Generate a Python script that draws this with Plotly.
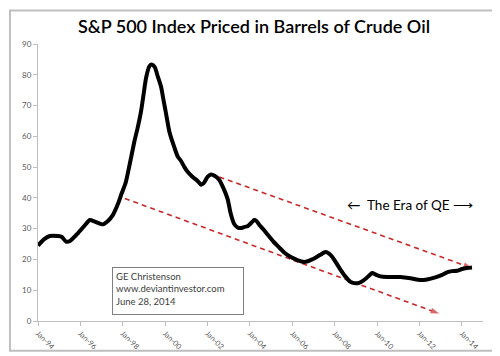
import plotly.graph_objects as go

# Data (decimal year, S&P 500 / oil price ratio)
years = [1994.00, 1994.28, 1994.56, 1994.94, 1995.13, 1995.32, 1995.51, 1995.88,
         1996.26, 1996.45, 1996.68, 1997.06, 1997.30, 1997.53, 1997.77, 1997.95,
         1998.14, 1998.33, 1998.55, 1998.71, 1998.86, 1998.99, 1999.10, 1999.26,
         1999.37, 1999.51, 1999.65, 1999.81, 1999.93, 2000.04, 2000.20, 2000.44,
         2000.59, 2000.75, 2000.91, 2001.06, 2001.30, 2001.53, 2001.69, 2001.82,
         2002.00, 2002.16, 2002.33, 2002.55, 2002.76, 2002.95, 2003.09, 2003.26,
         2003.42, 2003.57, 2003.75, 2003.89, 2004.08, 2004.20, 2004.31, 2004.44,
         2004.64, 2004.83, 2005.11, 2005.38, 2005.63, 2005.93, 2006.24, 2006.56,
         2006.76, 2007.03, 2007.32, 2007.57, 2007.75, 2007.89, 2008.08, 2008.28,
         2008.50, 2008.75, 2008.92, 2009.15, 2009.38, 2009.54, 2009.77, 2009.96,
         2010.16, 2010.48, 2011.10, 2011.58, 2012.05, 2012.36, 2012.75, 2013.07,
         2013.30, 2013.54, 2013.77, 2014.01, 2014.24, 2014.48]
ratio = [24.5, 26.5, 27.6, 27.6, 27.3, 25.8, 26.0, 28.5,
         31.5, 32.8, 32.3, 31.4, 32.5, 34.4, 38.0, 41.5,
         45.0, 51.0, 58.4, 63.0, 68.0, 74.0, 79.0, 82.8,
         83.3, 82.5, 79.5, 76.0, 71.5, 67.5, 61.5, 56.3,
         53.5, 52.0, 50.0, 48.5, 46.8, 45.5, 44.3, 44.8,
         46.8, 47.6, 47.2, 45.9, 43.0, 39.6, 35.0, 31.5,
         30.4, 30.2, 30.6, 30.8, 32.0, 32.8, 32.5, 31.3,
         29.7, 28.1, 25.8, 23.9, 22.2, 20.8, 19.8, 19.2,
         19.5, 20.3, 21.5, 22.4, 21.8, 20.8, 18.8, 16.6,
         14.5, 12.7, 12.3, 12.4, 13.3, 14.2, 15.6, 15.0,
         14.5, 14.3, 14.3, 13.9, 13.3, 13.5, 14.2, 15.0,
         15.8, 16.2, 16.3, 16.9, 17.2, 17.4]

# Dashed trend channel lines (start, end)
upper_x = [2002.16, 2014.48]
upper_y = [47.8, 17.2]
lower_x = [1998.10, 2012.93]
lower_y = [39.8, 2.4]

tick_vals = [1994, 1996, 1998, 2000, 2002, 2004, 2006, 2008, 2010, 2012, 2014]
tick_text = ["Jan-94", "Jan-96", "Jan-98", "Jan-00", "Jan-02", "Jan-04",
             "Jan-06", "Jan-08", "Jan-10", "Jan-12", "Jan-14"]
y_ticks = [0, 10, 20, 30, 40, 50, 60, 70, 80, 90]

RED = "#C8282A"
GRAY = "#595959"
FONT = "Lato"

fig = go.Figure()
for tx, ty in [(upper_x, upper_y), (lower_x, lower_y)]:
    fig.add_trace(go.Scatter(
        x=tx, y=ty, mode="lines+markers",
        line=dict(color=RED, width=1.6, dash="5px,4px"),
        marker=dict(symbol=["circle", "arrow"], size=[0, 9], color=RED,
                    angleref="previous", line=dict(width=0)),
        hoverinfo="skip", showlegend=False))

fig.add_trace(go.Scatter(
    x=years, y=ratio, mode="lines",
    line=dict(color="black", width=4, shape="spline", smoothing=0.6),
    showlegend=False))

fig.update_layout(
    width=500, height=356,
    margin=dict(l=30, r=25, t=36, b=33),
    paper_bgcolor="white", plot_bgcolor="white",
    font=dict(family=FONT, color=GRAY),
    title=dict(text="S&P 500 Index Priced in Barrels of Crude Oil",
               x=0.492, xanchor="center", y=0.948, yanchor="middle",
               font=dict(family=FONT, size=18, color="black", weight=600)),
    xaxis=dict(range=[1994, 2015], tickvals=tick_vals, ticktext=tick_text,
               tickangle=45, tickfont=dict(size=7.5, color=GRAY),
               showline=True, linecolor="#BFBFBF", linewidth=1,
               ticks="outside", ticklen=4, tickcolor="#BFBFBF",
               showgrid=False, zeroline=False),
    yaxis=dict(range=[0, 90], tickvals=y_ticks,
               tickfont=dict(size=8, color=GRAY),
               showline=True, linecolor="#BFBFBF", linewidth=1,
               ticks="outside", ticklen=4, tickcolor="#BFBFBF",
               showgrid=False, zeroline=False),
    shapes=[dict(type="rect", xref="paper", yref="paper",
                 x0=-0.063, x1=1.052, y0=-0.107, y1=1.121,
                 line=dict(color="#BFBFBF", width=2))],
    annotations=[
        dict(text="GE Christenson<br>www.deviantinvestor.com<br>June 28, 2014",
             xref="paper", yref="paper", x=0.167, y=0.196,
             xanchor="left", yanchor="top", align="left",
             showarrow=False, width=124, height=40, valign="top",
             bordercolor="#7F7F7F", borderwidth=1, borderpad=3,
             bgcolor="white", font=dict(family=FONT, size=9.5, color="#404040")),
        dict(text="\u2190  The Era of QE \u27f6",
             xref="paper", yref="paper", x=0.835, y=0.42,
             xanchor="center", yanchor="middle", showarrow=False,
             font=dict(family=FONT, size=13.5, color="black")),
    ],
)

fig.write_html("out.html")
